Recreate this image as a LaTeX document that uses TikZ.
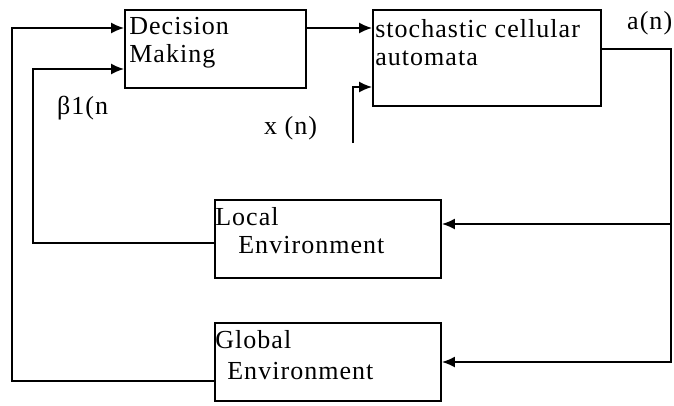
\documentclass[tikz,border=0pt]{standalone}
\usepackage{fontspec}
\setmainfont[LetterSpace=4]{Liberation Serif}
\usetikzlibrary{arrows.meta}

\begin{document}
\begin{tikzpicture}[
  x=1pt, y=-1pt,
  block/.style={draw, line width=1.8pt, minimum height=78pt, inner sep=0},
  label_text/.style={inner sep=0, align=left, anchor=north west, font=\fontsize{26}{28}\selectfont},
  signal_line/.style={draw, line width=1.8pt},
  signal_arrow/.style={signal_line, -{Latex[length=13pt,width=11pt]}}
  ]
	\useasboundingbox (0,0) rectangle (674,405);

	\node[block, minimum width=181pt] (dm) at (215.5,49) {};
	\node[block, minimum width=228pt, minimum height=96pt] (sca) at (487,58) {};

	\node[block, minimum width=226pt] (lenv) at (328,239) {};
	\node[block, minimum width=226pt] (genv) at (328,362) {};

	\node[label_text] (dmtext) at ([xshift=5pt,yshift=-8pt]dm.north west) {Decision\\Making};
	\node[label_text] (scatext) at ([xshift=3pt,yshift=-10pt]sca.north west) {stochastic cellular\\automata};
	\node[label_text] (lenvtext) at ([xshift=1pt,yshift=-8pt]lenv.north west) {Local\\\hspace*{23pt}Environment};
	\node[label_text] (genvtext) at ([xshift=1pt,yshift=-8pt]genv.north west) {Global\\[3pt]\hspace*{12pt}Environment};

	\node[label_text, anchor=base west] (beta) at (57,114) {β1(n};
	\node[label_text, anchor=base west] (xn) at (264,134) {x (n)};
	\node[label_text, anchor=base west] (an) at (627,29) {a(n)};

	\coordinate (xin) at (353,143);

	\draw[signal_arrow] ([yshift=21pt]dm.east) -- ([yshift=30pt]sca.west);
	\draw[signal_arrow] (xin) |- ([yshift=-29pt]sca.west);

	\draw[signal_arrow] ([yshift=9pt]sca.east) -- ++(69,0) |- ([yshift=15pt]lenv.east);
	\draw[signal_arrow] ([yshift=9pt]sca.east) -- ++(69,0) |- (genv.east);

	\draw[signal_arrow] ([yshift=-4pt]lenv.west) -- ++(-181,0) |- ([yshift=-20pt]dm.west);
	\draw[signal_arrow] ([yshift=-19pt]genv.west) -- ++(-202,0) |- ([yshift=21pt]dm.west);
\end{tikzpicture}
\end{document}
